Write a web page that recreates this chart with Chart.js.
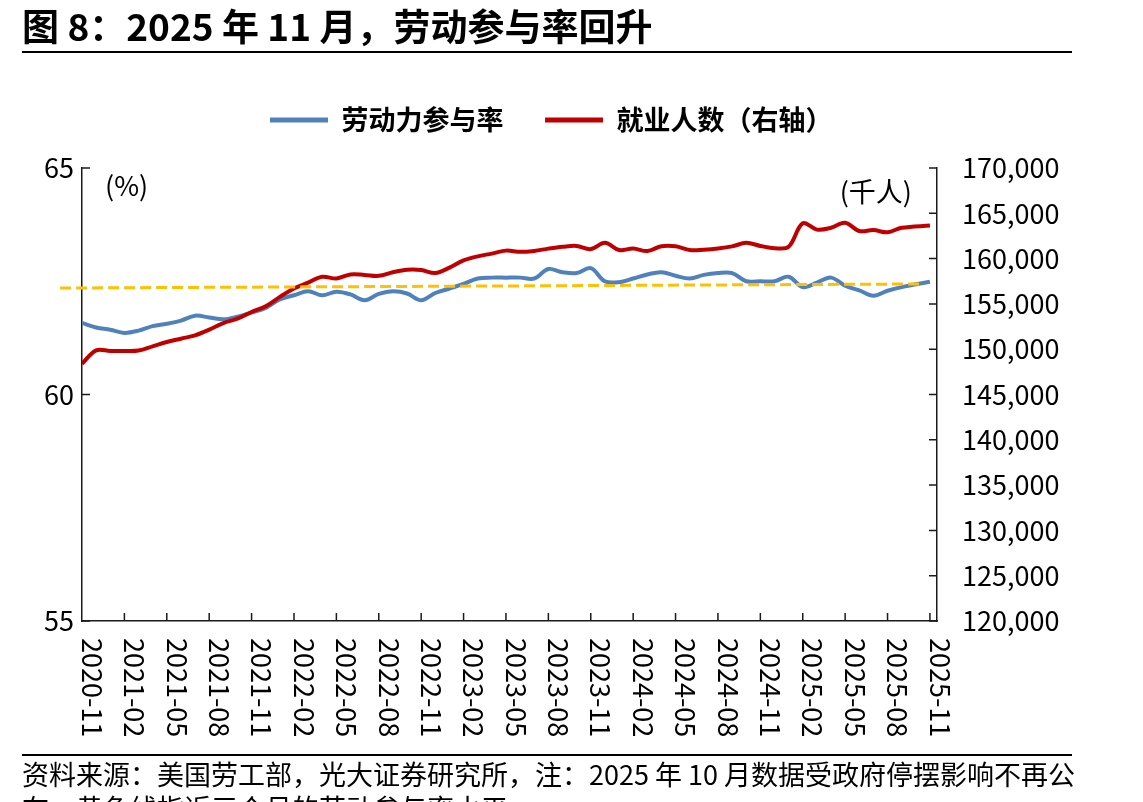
<!DOCTYPE html>
<html lang="zh-CN">
<head>
<meta charset="utf-8">
<title>劳动参与率回升</title>
<script src="https://cdn.jsdelivr.net/npm/chart.js@4.4.1/dist/chart.umd.min.js"></script>
<style>
  html, body { margin: 0; padding: 0; background: #fff; }
  body { width: 1143px; height: 802px; position: relative; overflow: hidden; font-family: "Noto Sans CJK SC", sans-serif; color: #000; }
  #wrap { position: absolute; left: 0; top: 0; width: 1143px; height: 802px; }
  #title { position: absolute; left: 22px; top: 2px; font-size: 37px; font-weight: bold; line-height: 46px; white-space: nowrap; }
  .rule { position: absolute; left: 22px; width: 1050px; height: 2px; background: #000; }
  #note { position: absolute; left: 22px; top: 757px; width: 1085px; font-size: 27px; line-height: 34px; }
</style>
</head>
<body>
<div id="wrap"><canvas id="chart"></canvas></div>
<div id="title">图 8：2025 年 11 月，劳动参与率回升</div>
<div class="rule" style="top:51px"></div>
<div class="rule" style="top:754px"></div>
<div id="note">资料来源：美国劳工部，光大证券研究所，注：2025 年 10 月数据受政府停摆影响不再公布，黄色线指近三个月的劳动参与率水平</div>
<script>
// months on the x axis (2025-10 not published)
const months = [
  '2020-11', '2020-12',
  '2021-01', '2021-02', '2021-03', '2021-04', '2021-05', '2021-06', '2021-07', '2021-08', '2021-09', '2021-10', '2021-11', '2021-12',
  '2022-01', '2022-02', '2022-03', '2022-04', '2022-05', '2022-06', '2022-07', '2022-08', '2022-09', '2022-10', '2022-11', '2022-12',
  '2023-01', '2023-02', '2023-03', '2023-04', '2023-05', '2023-06', '2023-07', '2023-08', '2023-09', '2023-10', '2023-11', '2023-12',
  '2024-01', '2024-02', '2024-03', '2024-04', '2024-05', '2024-06', '2024-07', '2024-08', '2024-09', '2024-10', '2024-11', '2024-12',
  '2025-01', '2025-02', '2025-03', '2025-04', '2025-05', '2025-06', '2025-07', '2025-08', '2025-09', '2025-10', '2025-11'
];

// 劳动力参与率 (%)
const lfpr = [
  61.58, 61.48,
  61.43, 61.36, 61.41, 61.51, 61.56, 61.63, 61.74, 61.70, 61.66, 61.72, 61.81, 61.91,
  62.10, 62.19, 62.28, 62.19, 62.27, 62.21, 62.08, 62.22, 62.28, 62.23, 62.08, 62.24,
  62.34, 62.44, 62.56, 62.58, 62.58, 62.58, 62.56, 62.77, 62.70, 62.68, 62.79, 62.50,
  62.48, 62.56, 62.65, 62.70, 62.62, 62.56, 62.64, 62.68, 62.68, 62.50, 62.50, 62.50,
  62.60, 62.37, 62.47, 62.58, 62.40, 62.30, 62.18, 62.29, 62.37, null, 62.49
];

// 就业人数 (千人)
const employed = [
  148400, 149870,
  149800, 149800, 149850, 150310, 150790, 151160, 151530, 152160, 152890, 153370, 154110, 154740,
  155770, 156700, 157350, 158000, 157800, 158250, 158200, 158100, 158500, 158780, 158750, 158400,
  159000, 159800, 160250, 160550, 160880, 160750, 160850, 161100, 161300, 161400, 161050, 161750,
  160950, 161120, 160830, 161370, 161370, 160950, 160990, 161120, 161350, 161740, 161400, 161150,
  161300, 163900, 163200, 163400, 163950, 163050, 163150, 162900, 163400, null, 163650
];

// yellow dashed line: recent three-month participation level
const refLevel = [62.35, 62.44];
const refSpan = [-1.55, 59.5];

const blue = '#4F81BD';
const red = '#C00000';
const yellow = '#FFC000';
const axisColor = '#1a1a1a';

Chart.defaults.font.family = '"Noto Sans CJK SC", sans-serif';
Chart.defaults.color = '#000';

const decor = {
  id: 'decor',
  beforeInit(chart) {
    // legend box taller so the plot starts lower
    const fit = chart.legend.fit;
    chart.legend.fit = function () {
      fit.call(this);
      this.height = 103;
    };
  },
  afterDraw(chart) {
    const { ctx, chartArea: a, scales: { x, y, y1 } } = chart;
    ctx.save();
    ctx.strokeStyle = axisColor;
    ctx.lineWidth = 1.5;
    ctx.beginPath();
    y.ticks.forEach(t => {
      const p = y.getPixelForValue(t.value);
      ctx.moveTo(a.left, p); ctx.lineTo(a.left + 8, p);
    });
    y1.ticks.forEach(t => {
      const p = y1.getPixelForValue(t.value);
      ctx.moveTo(a.right - 8, p); ctx.lineTo(a.right, p);
    });
    x.ticks.forEach(t => {
      if (t.value === 0) return;
      const p = x.getPixelForValue(t.value);
      ctx.moveTo(p, a.bottom); ctx.lineTo(p, a.bottom - 8);
    });
    ctx.stroke();

    // rotated x labels, reading top to bottom
    ctx.fillStyle = '#000';
    ctx.font = '27px "Noto Sans CJK SC"';
    ctx.textAlign = 'left';
    ctx.textBaseline = 'middle';
    x.ticks.forEach(t => {
      ctx.save();
      ctx.translate(x.getPixelForValue(t.value) + 10, a.bottom + 17);
      ctx.rotate(Math.PI / 2);
      ctx.fillText(months[t.value], 0, 0);
      ctx.restore();
    });

    // units
    ctx.fillText('(%)', a.left + 23, a.top + 18);
    ctx.textAlign = 'right';
    ctx.fillText('(千人)', a.right - 25, a.top + 24);
    ctx.restore();
  }
};

new Chart(document.getElementById('chart'), {
  type: 'line',
  data: {
    datasets: [
      {
        label: '劳动力参与率',
        data: lfpr.map((v, i) => ({ x: i, y: v })),
        yAxisID: 'y',
        borderColor: blue,
        backgroundColor: blue,
        borderWidth: 4,
        pointRadius: 0,
        tension: 0.35,
        spanGaps: true,
        order: 2
      },
      {
        label: '就业人数（右轴）',
        data: employed.map((v, i) => ({ x: i, y: v })),
        yAxisID: 'y1',
        borderColor: red,
        backgroundColor: red,
        borderWidth: 4,
        pointRadius: 0,
        tension: 0.35,
        spanGaps: true,
        order: 1
      },
      {
        label: '近三个月水平',
        data: refLevel.map((v, i) => ({ x: refSpan[i], y: v })),
        yAxisID: 'y',
        borderColor: yellow,
        borderWidth: 3,
        borderDash: [11, 5],
        pointRadius: 0,
        clip: false,
        order: 0
      }
    ]
  },
  options: {
    responsive: true,
    maintainAspectRatio: false,
    animation: false,
    layout: { padding: { top: 65, left: 0, right: 40.5, bottom: 0 } },
    plugins: {
      tooltip: { enabled: false },
      legend: {
        position: 'top',
        labels: {
          boxWidth: 58,
          boxHeight: 5,
          padding: 41.5,
          font: { size: 27, weight: 'bold' },
          color: '#000',
          filter: item => item.datasetIndex < 2,
          sort: (a, b) => a.datasetIndex - b.datasetIndex,
          generateLabels: chart => Chart.defaults.plugins.legend.labels.generateLabels(chart)
            .map(l => ({ ...l, lineWidth: 0 }))
        }
      }
    },
    scales: {
      x: {
        type: 'linear',
        min: 0,
        max: 60.5,
        ticks: { display: false },
        grid: { display: false, drawTicks: false },
        border: { display: true, color: axisColor, width: 1.5 },
        afterBuildTicks: s => {
          s.ticks = months.map((m, i) => ({ value: i })).filter(t => t.value % 3 === 0);
        },
        afterFit: s => { s.height = 181; }
      },
      y: {
        position: 'left',
        min: 55,
        max: 65,
        ticks: { stepSize: 5, font: { size: 27 }, padding: 8, color: '#000' },
        grid: { display: false, drawTicks: false },
        border: { display: true, color: axisColor, width: 1.5 },
        afterFit: s => { s.width = 82; }
      },
      y1: {
        position: 'right',
        min: 120000,
        max: 170000,
        ticks: {
          stepSize: 5000,
          font: { size: 27 },
          padding: 25,
          color: '#000',
          callback: v => v.toLocaleString('en-US')
        },
        grid: { display: false, drawTicks: false },
        border: { display: true, color: axisColor, width: 1.5 },
        afterFit: s => { s.width = 165.5; }
      }
    }
  },
  plugins: [decor]
});
</script>
</body>
</html>
